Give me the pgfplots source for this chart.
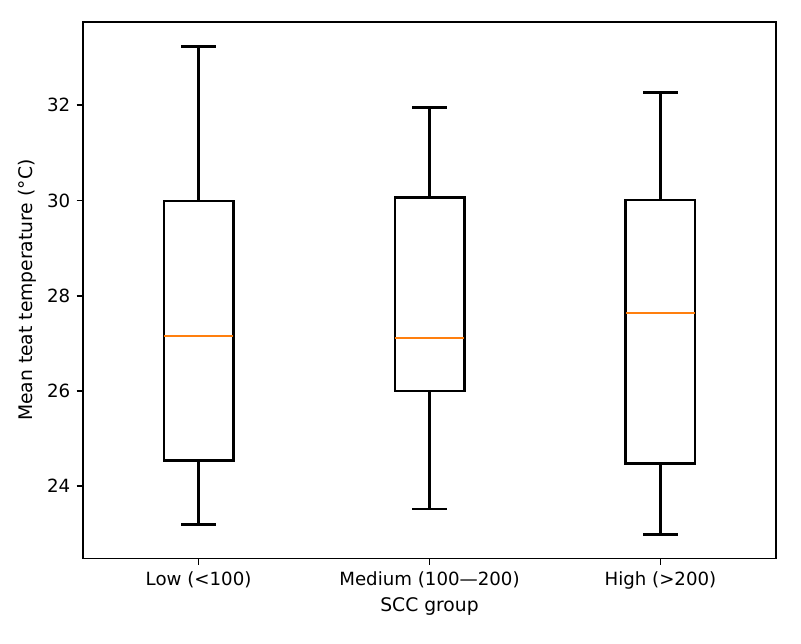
\documentclass[border=0pt]{standalone}
\usepackage{fontspec}
\setmainfont{DejaVu Sans}
\usepackage{pgfplots}
\pgfplotsset{compat=1.18}
\usepgfplotslibrary{statistics}
\definecolor{mplorange}{HTML}{FF7F0E}
\pgfplotsset{
  mplbox/.style={
    boxplot/box extend=0.3, boxplot/whisker extend=0.15,
    boxplot/draw/box/.code={%
      \draw[black, line width=1.5pt]
        (boxplot box cs:\pgfplotsboxplotvalue{lower quartile},0)
        rectangle
        (boxplot box cs:\pgfplotsboxplotvalue{upper quartile},1);
    },
    boxplot/every whisker/.style={draw=black, line width=1.5pt},
    boxplot/every median/.style={draw=mplorange, line width=1.2pt},
  },
}
\begin{document}
\begin{tikzpicture}
\begin{axis}[
  width=381pt, height=295pt, scale only axis,
  xmin=0.5, xmax=3.5, ymin=22.48, ymax=33.75,
  xtick={1,2,3},
  xticklabels={Low (<100), Medium (100—200), High (>200)},
  ytick={24,26,28,30,32},
  tick align=outside, xtick pos=bottom, ytick pos=left,
  major tick length=3.5pt,
  every tick/.style={black, line width=0.9pt},
  axis line style={line width=0.9pt},
  tick label style={font=\fontsize{10}{12}\selectfont},
  /pgf/number format/assume math mode=true,
  xlabel={SCC group}, ylabel={Mean teat temperature (°C)},
  label style={font=\fontsize{10.3}{12}\selectfont},
  xlabel style={yshift=2pt},
  ylabel style={yshift=-1pt},
  boxplot/draw direction=y,
]
\addplot+[mark=none, draw=black, solid, line width=1.5pt, mplbox, boxplot prepared={draw position=1, median=27.15, upper quartile=29.99, lower quartile=24.54, upper whisker=33.24, lower whisker=23.19}] coordinates {};
\addplot+[mark=none, draw=black, solid, line width=1.5pt, mplbox, boxplot prepared={draw position=2, median=27.11, upper quartile=30.07, lower quartile=26.00, upper whisker=31.96, lower whisker=23.52}] coordinates {};
\addplot+[mark=none, draw=black, solid, line width=1.5pt, mplbox, boxplot prepared={draw position=3, median=27.63, upper quartile=30.01, lower quartile=24.47, upper whisker=32.27, lower whisker=22.99}] coordinates {};
\end{axis}
\path ([xshift=-45.7pt,yshift=-46.8pt]current axis.south west) ([xshift=13.8pt,yshift=12.1pt]current axis.north east);
\end{tikzpicture}
\end{document}
